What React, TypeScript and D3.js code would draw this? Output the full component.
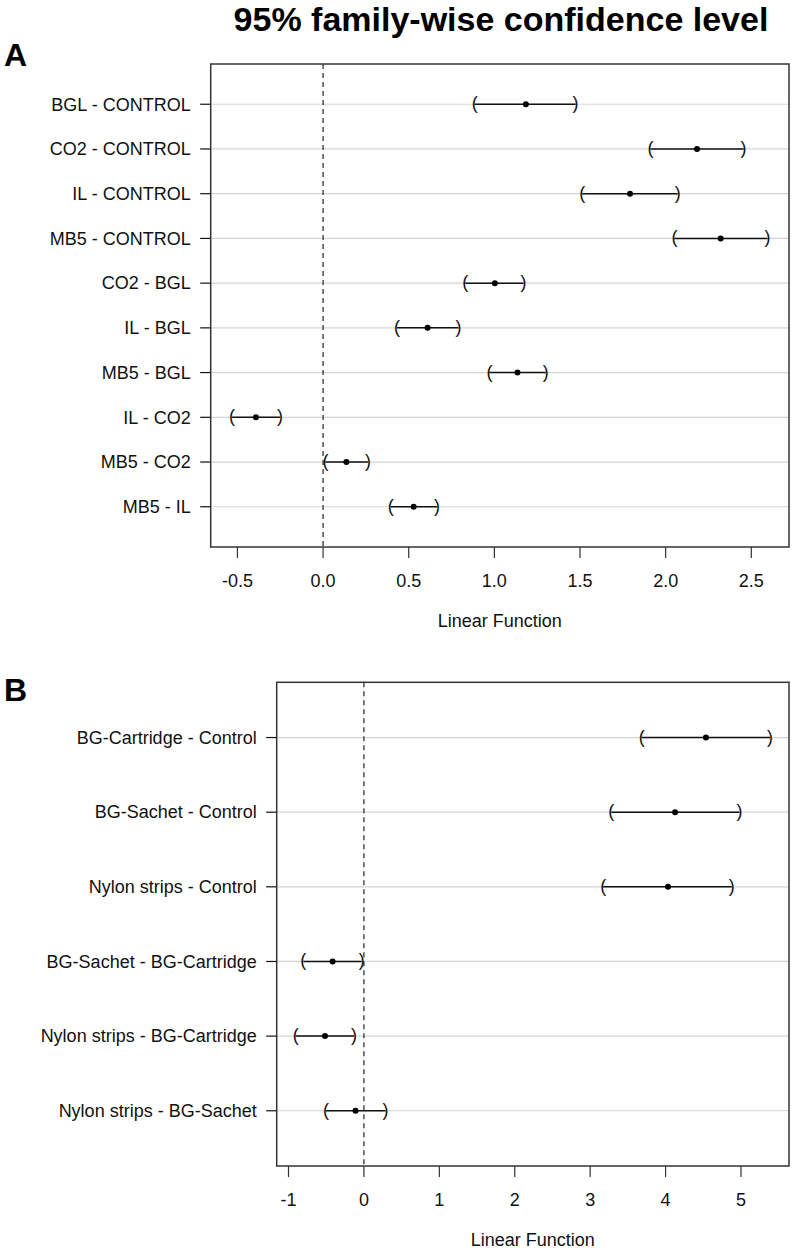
import React from "react";
import * as d3 from "d3";

const title = "95% family-wise confidence level";

const compsA = [
  "BGL - CONTROL",
  "CO2 - CONTROL",
  "IL - CONTROL",
  "MB5 - CONTROL",
  "CO2 - BGL",
  "IL - BGL",
  "MB5 - BGL",
  "IL - CO2",
  "MB5 - CO2",
  "MB5 - IL",
];
const estA = [1.184, 2.183, 1.792, 2.321, 1.003, 0.61, 1.135, -0.392, 0.136, 0.529];
const lwrA = [0.885, 1.911, 1.513, 2.051, 0.83, 0.432, 0.971, -0.531, 0.014, 0.395];
const uprA = [1.474, 2.455, 2.07, 2.595, 1.17, 0.79, 1.3, -0.252, 0.262, 0.665];
const ticksA = [-0.5, 0, 0.5, 1, 1.5, 2, 2.5];

const compsB = [
  "BG-Cartridge - Control",
  "BG-Sachet - Control",
  "Nylon strips - Control",
  "BG-Sachet - BG-Cartridge",
  "Nylon strips - BG-Cartridge",
  "Nylon strips - BG-Sachet",
];
const estB = [4.535, 4.126, 4.032, -0.415, -0.516, -0.111];
const lwrB = [3.685, 3.28, 3.172, -0.803, -0.905, -0.503];
const uprB = [5.385, 4.98, 4.877, -0.03, -0.132, 0.286];
const ticksB = [-1, 0, 1, 2, 3, 4, 5];

const xLabel = "Linear Function";
const FONT = "'Liberation Sans', Arial, Helvetica, sans-serif";

function rExtend(lo: number, hi: number): [number, number] {
  const d = (hi - lo) * 0.04;
  return [lo - d, hi + d];
}

const hyphen = (f: (v: number) => string) => (v: number) => f(v).replace("\u2212", "-");

type PanelProps = {
  letter: string;
  letterY: number;
  comps: string[];
  est: number[];
  lwr: number[];
  upr: number[];
  ticks: number[];
  fmt: (v: number) => string;
  left: number;
  right: number;
  top: number;
  bottom: number;
};

function Panel(p: PanelProps) {
  const n = p.comps.length;
  const x = d3
    .scaleLinear()
    .domain(rExtend(d3.min(p.lwr) as number, d3.max(p.upr) as number))
    .range([p.left, p.right]);
  const y = d3
    .scaleLinear()
    .domain(rExtend(0.5, n + 0.5))
    .range([p.top, p.bottom]);
  const rows = p.comps.map((c, i) => ({
    c,
    yy: y(i + 1),
    e: p.est[i],
    l: p.lwr[i],
    u: p.upr[i],
  }));
  const fs = 18;
  return (
    <g>
      <text x={4} y={p.letterY} fontFamily={FONT} fontWeight="bold" fontSize={32}>
        {p.letter}
      </text>
      {rows.map((r, i) => (
        <line key={"g" + i} x1={p.left} x2={p.right} y1={r.yy} y2={r.yy} stroke="#d4d4d4" strokeWidth={1.2} />
      ))}
      <line
        x1={x(0)}
        x2={x(0)}
        y1={p.top}
        y2={p.bottom}
        stroke="#222"
        strokeWidth={1.2}
        strokeDasharray="5,4"
      />
      {rows.map((r, i) => (
        <g key={"r" + i}>
          <line x1={x(r.l)} x2={x(r.u)} y1={r.yy} y2={r.yy} stroke="#111" strokeWidth={1.5} />
          <text x={x(r.l)} y={r.yy + 5} textAnchor="middle" fontFamily={FONT} fontSize={18} fill="#111">
            (
          </text>
          <text x={x(r.u)} y={r.yy + 5} textAnchor="middle" fontFamily={FONT} fontSize={18} fill="#111">
            )
          </text>
          <circle cx={x(r.e)} cy={r.yy} r={3} fill="#000" />
          <line x1={p.left - 10.5} x2={p.left} y1={r.yy} y2={r.yy} stroke="#111" strokeWidth={1.2} />
          <text
            x={p.left - 20}
            y={r.yy + 6.3}
            textAnchor="end"
            fontFamily={FONT}
            fontSize={fs}
            fill="#111"
          >
            {r.c}
          </text>
        </g>
      ))}
      <rect
        x={p.left}
        y={p.top}
        width={p.right - p.left}
        height={p.bottom - p.top}
        fill="none"
        stroke="#333"
        strokeWidth={1.5}
      />
      {p.ticks.map((t, i) => (
        <g key={"t" + i}>
          <line x1={x(t)} x2={x(t)} y1={p.bottom} y2={p.bottom + 11} stroke="#333" strokeWidth={1.2} />
          <text
            x={x(t)}
            y={p.bottom + 40}
            textAnchor="middle"
            fontFamily={FONT}
            fontSize={fs}
            fill="#111"
          >
            {p.fmt(t)}
          </text>
        </g>
      ))}
      <text
        x={(p.left + p.right) / 2}
        y={p.bottom + 80}
        textAnchor="middle"
        fontFamily={FONT}
        fontSize={fs}
        fill="#111"
      >
        {xLabel}
      </text>
    </g>
  );
}

export default function App() {
  return (
    <svg
      width={795}
      height={1253}
      style={{ position: "absolute", left: 0, top: 0, background: "#fff" }}
    >
      <rect x={0} y={0} width={795} height={1253} fill="#fff" />
      <text
        x={501}
        y={31}
        textAnchor="middle"
        fontFamily={FONT}
        fontWeight="bold"
        fontSize={34}
        fill="#000"
      >
        {title}
      </text>
      <Panel
        letter="A"
        letterY={66}
        comps={compsA}
        est={estA}
        lwr={lwrA}
        upr={uprA}
        ticks={ticksA}
        fmt={hyphen(d3.format(".1f"))}
        left={210.7}
        right={789}
        top={64}
        bottom={547}
      />
      <Panel
        letter="B"
        letterY={701}
        comps={compsB}
        est={estB}
        lwr={lwrB}
        upr={uprB}
        ticks={ticksB}
        fmt={hyphen(d3.format("d"))}
        left={276.7}
        right={789}
        top={682.3}
        bottom={1166}
      />
    </svg>
  );
}
